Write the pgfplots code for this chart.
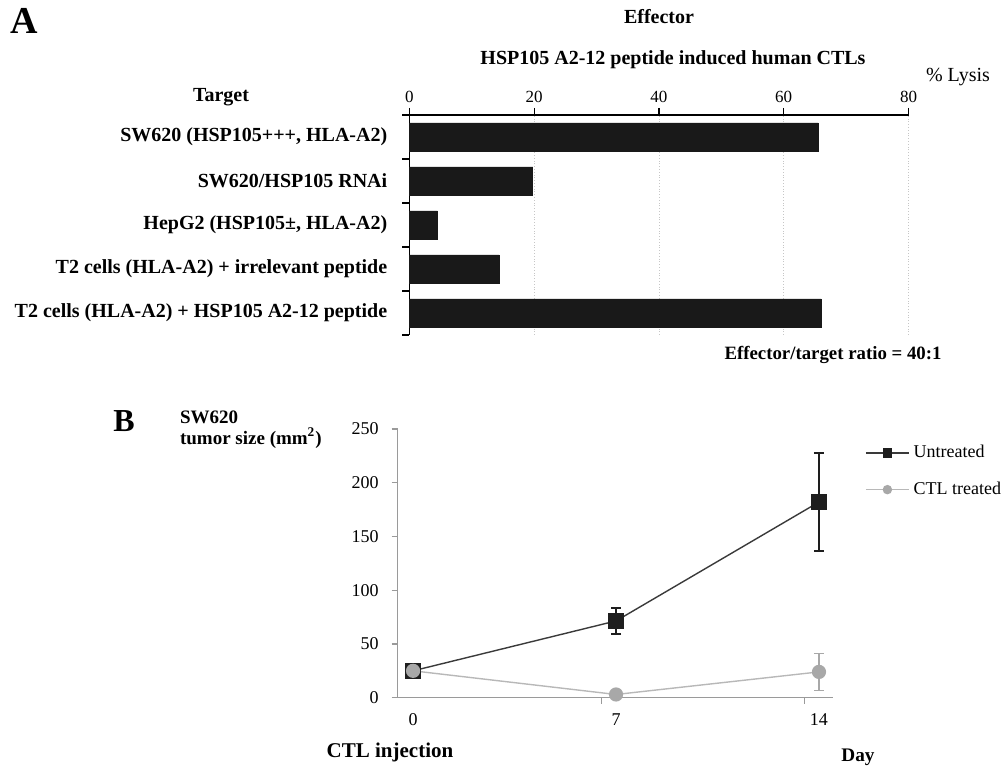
\documentclass[border=0pt]{standalone}
\usepackage{fontspec}
\setmainfont{Liberation Serif}
\usepackage{pgfplots}
\pgfplotsset{compat=1.18}
\definecolor{untr}{HTML}{1E1E1E}
\definecolor{untrline}{HTML}{3A3A3A}
\definecolor{ctl}{HTML}{A8A8A8}
\definecolor{ctlline}{HTML}{B8B8B8}
\definecolor{axgray}{HTML}{9A9A9A}
\begin{document}
\begin{tikzpicture}
\path[use as bounding box] (0,0) rectangle (500.5pt,-385pt);
% ---------------- Panel A ----------------
\begin{axis}[
  at={(204.65pt,-57.5pt)}, anchor=north west,
  scale only axis, width=249.6pt, height=110pt,
  xbar, bar width=14pt,
  xmin=0, xmax=80, ymin=0.5, ymax=5.5,
  axis x line*=top, axis y line*=left,
  axis line style={black, line width=0.6pt},
  xtick={0,20,40,60,80},
  ytick={1,2,3,4,5},
  yticklabels={T2 cells (HLA-A2) + HSP105 A2-12 peptide,
               T2 cells (HLA-A2) + irrelevant peptide,
               {HepG2 (HSP105±, HLA-A2)},
               SW620/HSP105 RNAi,
               {SW620 (HSP105+++, HLA-A2)}},
  minor ytick={0.5,1.5,2.5,3.5,4.5,5.5},
  major y tick style={draw=none},
  minor tick length=3.5pt, major tick length=3.5pt,
  tick align=outside,
  tick style={black, line width=0.6pt},
  xmajorgrids, grid style={densely dotted, gray!45, line width=0.4pt},
  /pgf/number format/assume math mode=true,
  xticklabel style={font=\fontsize{8.5}{10}\selectfont, yshift=-1pt},
  yticklabel style={font=\bfseries\fontsize{10}{12}\selectfont, xshift=-4pt},
  clip=false,
]
\addplot[fill=black!90, draw=black!90] coordinates {
  (66.0,1) (14.4,2) (4.5,3) (19.8,4) (65.5,5)
};
\end{axis}
% ---------------- Panel B ----------------
\begin{axis}[
  at={(198.85pt,-348.85pt)}, anchor=south west,
  scale only axis, width=217.6pt, height=134.4pt,
  xmin=-0.53, xmax=14.48, ymin=0, ymax=250,
  axis x line*=bottom, axis y line*=left,
  axis line style={axgray, line width=0.6pt},
  tick style={axgray, line width=0.6pt},
  xtick={0,7,14}, major x tick style={draw=none},
  minor xtick={6.5,13.5},
  ytick={0,50,100,150,200,250},
  tick align=outside, major tick length=3pt, minor tick length=3pt,
  /pgf/number format/assume math mode=true,
  ticklabel style={font=\fontsize{9}{11}\selectfont},
  yticklabel style={xshift=-3pt},
  xticklabel style={yshift=-1.5pt},
  legend style={at={(1.073,0.955)}, anchor=north west, draw=none, fill=none,
    font=\fontsize{9}{11}\selectfont, row sep=6.5pt, inner sep=0pt,
    legend cell align=left},
  legend image post style={mark size=2pt},
  legend image code/.code={\draw[mark repeat=2,mark phase=2,#1] plot coordinates {(0cm,0cm) (0.38cm,0cm) (0.76cm,0cm)};},
  clip=false,
]
\addplot[untrline, line width=0.7pt, mark=square*, mark size=3.5pt,
  mark options={fill=untr, draw=untr},
  error bars/.cd, y dir=both, y explicit,
  error bar style={untr, line width=0.7pt},
  error mark options={rotate=90, mark size=2.5pt, untr, line width=0.7pt}]
  coordinates {
  (0,25) +- (0,0)
  (7,71.4) +- (0,12)
  (14,182) +- (0,45.5)
};
\addlegendentry{Untreated}
\addplot[ctlline, line width=0.7pt, mark=*, mark size=3.2pt,
  mark options={fill=ctl, draw=ctl},
  error bars/.cd, y dir=both, y explicit,
  error bar style={ctl, line width=0.7pt},
  error mark options={rotate=90, mark size=2.5pt, ctl, line width=0.7pt}]
  coordinates {
  (0,25) +- (0,0)
  (7,3) +- (0,0)
  (14,24) +- (0,17.2)
};
\addlegendentry{CTL treated}
\end{axis}
% ---------------- Text ----------------
\begin{scope}[x=0.5pt, y=-0.5pt]
\node[font=\bfseries\fontsize{19}{21}\selectfont] at (24,21) {A};
\node[font=\bfseries\fontsize{10}{12}\selectfont] at (659,17) {Effector};
\node[font=\bfseries\fontsize{10}{12}\selectfont] at (673,60) {HSP105 A2-12 peptide induced human CTLs};
\node[font=\fontsize{10}{12}\selectfont] at (958,77) {\% Lysis};
\node[font=\bfseries\fontsize{10}{12}\selectfont] at (221,97) {Target};
\node[font=\bfseries\fontsize{9.4}{11}\selectfont] at (833,355) {Effector/target ratio = 40:1};
\node[font=\bfseries\fontsize{16}{18}\selectfont] at (124,421) {B};
\node[anchor=west, font=\bfseries\fontsize{9.5}{11}\selectfont] at (173,417) {SW620};
\node[anchor=west, font=\bfseries\fontsize{9.5}{11}\selectfont] at (173,438) {tumor size (mm\textsuperscript{2})};
\node[font=\bfseries\fontsize{10.5}{12}\selectfont] at (390,752) {CTL injection};
\node[font=\bfseries\fontsize{9.6}{11}\selectfont] at (858,757) {Day};
\end{scope}
\end{tikzpicture}
\end{document}
